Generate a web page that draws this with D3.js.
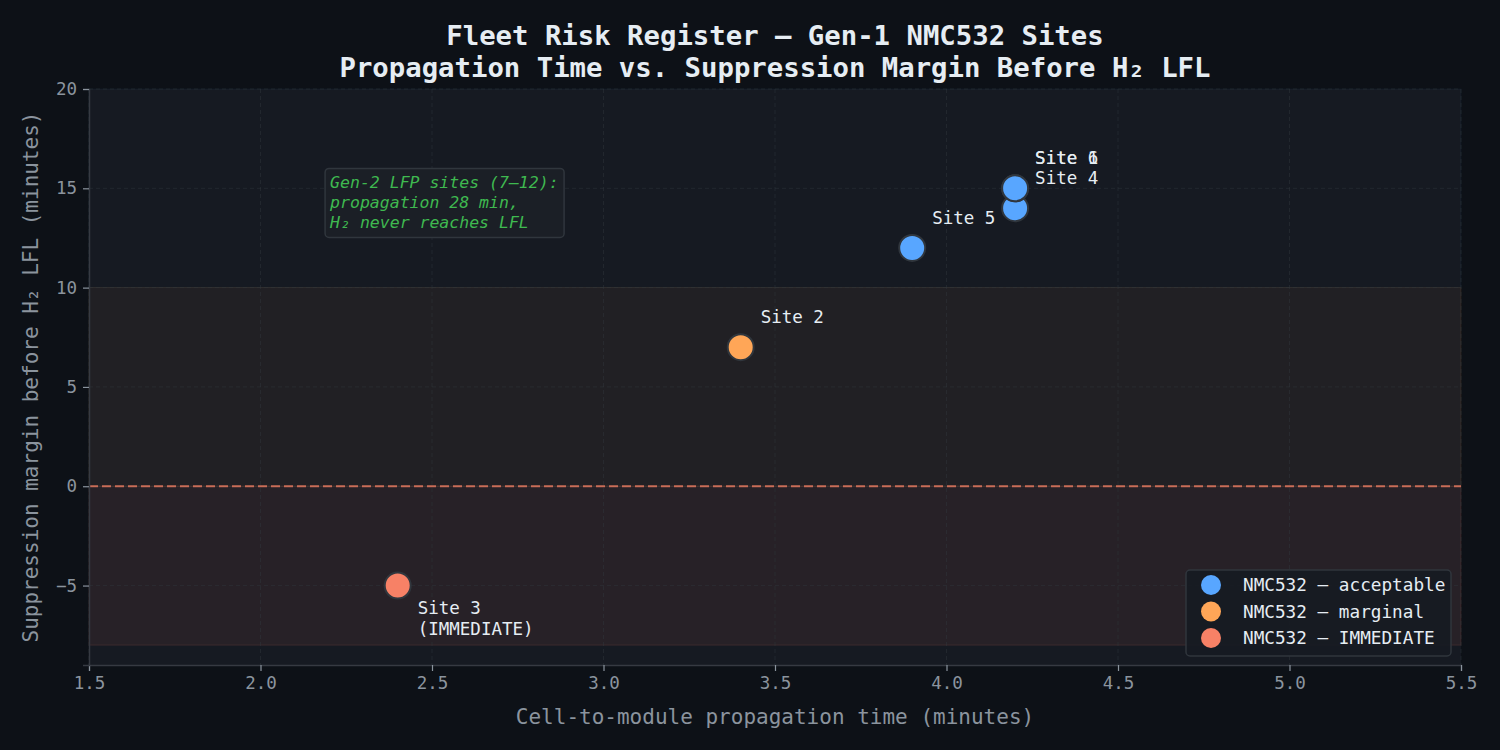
<!DOCTYPE html>
<html><head><meta charset="utf-8">
<script src="https://cdn.jsdelivr.net/npm/d3@7"></script>
<style>
html,body{margin:0;padding:0;background:#0d1117;}
svg{display:block;}
</style></head>
<body>
<svg id="chart" width="1500" height="750"></svg>
<script>
// ---- data ----
const sites = ["Site 1", "Site 6", "Site 4", "Site 5", "Site 2", "Site 3"];
const propagation = [4.2, 4.2, 4.2, 3.9, 3.4, 2.4];
const margin = [15, 15, 14, 12, 7, -5];
const status = ["acceptable", "acceptable", "acceptable", "acceptable", "marginal", "IMMEDIATE"];
const categories = ["acceptable", "marginal", "IMMEDIATE"];
const legendLabels = ["NMC532 — acceptable", "NMC532 — marginal", "NMC532 — IMMEDIATE"];
const xTicks = [1.5, 2.0, 2.5, 3.0, 3.5, 4.0, 4.5, 5.0, 5.5];
const yTicks = [-5, 0, 5, 10, 15, 20];
const bands = [[10, 20, "acceptable"], [0, 10, "marginal"], [-8, 0, "IMMEDIATE"]];
const titleLines = ["Fleet Risk Register — Gen-1 NMC532 Sites", "Propagation Time vs. Suppression Margin Before H₂ LFL"];
const noteLines = ["Gen-2 LFP sites (7–12):", "propagation 28 min,", "H₂ never reaches LFL"];
const noteAnchor = [2.2, 15.6];

// ---- styles ----
const colors = {acceptable: "#58a6ff", marginal: "#ffa657", IMMEDIATE: "#f78166"};
const bandAlpha = {acceptable: 0.0, marginal: 0.05, IMMEDIATE: 0.08};
const font = "'DejaVu Sans Mono', monospace";

const svg = d3.select("#chart");
const W = 1500, H = 750;
const m = {l: 89, r: 39, t: 89, b: 85};
const x = d3.scaleLinear().domain([1.5, 5.5]).range([m.l, W - m.r]);
const y = d3.scaleLinear().domain([-9, 20]).range([H - m.b, m.t]);

svg.append("rect").attr("width", W).attr("height", H).attr("fill", "#0d1117");
svg.append("rect").attr("x", x(1.5)).attr("y", y(20)).attr("width", x(5.5) - x(1.5)).attr("height", y(-9) - y(20)).attr("fill", "#161a22");

// bands
svg.append("g").selectAll("rect").data(bands).join("rect")
  .attr("x", x(1.5)).attr("width", x(5.5) - x(1.5))
  .attr("y", d => y(d[1])).attr("height", d => y(d[0]) - y(d[1]))
  .attr("fill", d => colors[d[2]]).attr("fill-opacity", d => bandAlpha[d[2]])
  .attr("stroke", d => colors[d[2]]).attr("stroke-opacity", d => bandAlpha[d[2]] + 0.05).attr("stroke-width", 1);

// grid
const grid = svg.append("g");
grid.selectAll("line.gx").data(xTicks).join("line")
  .attr("x1", d => x(d)).attr("x2", d => x(d)).attr("y1", y(20)).attr("y2", y(-9))
  .attr("stroke", "#30363d").attr("stroke-opacity", 0.6).attr("stroke-dasharray", "4,3").attr("stroke-width", 0.8);
grid.selectAll("line.gy").data(yTicks).join("line")
  .attr("x1", x(1.5)).attr("x2", x(5.5)).attr("y1", d => y(d)).attr("y2", d => y(d))
  .attr("stroke", "#30363d").attr("stroke-opacity", 0.6).attr("stroke-dasharray", "4,3").attr("stroke-width", 0.8);

// zero line
svg.append("line").attr("x1", x(1.5)).attr("x2", x(5.5)).attr("y1", y(0)).attr("y2", y(0))
  .attr("stroke", "#f78166").attr("stroke-opacity", 0.75).attr("stroke-width", 2).attr("stroke-dasharray", "9,4");

// axes
const xAxis = svg.append("g").attr("transform", `translate(0,${y(-9)})`)
  .call(d3.axisBottom(x).tickValues(xTicks).tickFormat(d3.format(".1f")).tickSize(6).tickPadding(6));
const yAxis = svg.append("g").attr("transform", `translate(${x(1.5)},0)`)
  .call(d3.axisLeft(y).tickValues(yTicks).tickFormat(d => d < 0 ? "−" + Math.abs(d) : d).tickSize(6).tickPadding(6));
[xAxis, yAxis].forEach(a => {
  a.select(".domain").attr("stroke", "#363a42").attr("stroke-width", 1.5);
  a.selectAll(".tick line").attr("stroke", "#8b949e").attr("stroke-width", 1.2);
  a.selectAll(".tick text").attr("fill", "#8b949e").style("font-family", font).style("font-size", "17.5px");
});

// axis labels
svg.append("text").attr("x", (x(1.5) + x(5.5)) / 2).attr("y", 724).attr("text-anchor", "middle")
  .attr("fill", "#8b949e").style("font-family", font).style("font-size", "21px")
  .text("Cell-to-module propagation time (minutes)");
svg.append("text").attr("transform", `translate(38,${(y(20) + y(-9)) / 2}) rotate(-90)`).attr("text-anchor", "middle")
  .attr("fill", "#8b949e").style("font-family", font).style("font-size", "21px")
  .text("Suppression margin before H₂ LFL (minutes)");

// title
svg.append("g").selectAll("text").data(titleLines).join("text")
  .attr("x", (x(1.5) + x(5.5)) / 2).attr("y", (d, i) => 45 + i * 32).attr("text-anchor", "middle")
  .attr("fill", "#e6edf3").style("font-family", font).style("font-size", "27.3px").style("font-weight", "bold")
  .text(d => d);

// annotation box
const nb = svg.append("g");
nb.append("rect").attr("x", x(noteAnchor[0]) - 4).attr("y", y(noteAnchor[1]) - 8).attr("width", 239).attr("height", 69)
  .attr("rx", 4).attr("fill", "#1b1f26").attr("stroke", "#30363d").attr("stroke-width", 1.5);
nb.selectAll("text").data(noteLines).join("text")
  .attr("x", x(noteAnchor[0]) + 1).attr("y", (d, i) => y(noteAnchor[1]) + 12 + i * 20)
  .attr("fill", "#3fb950").style("font-family", font).style("font-size", "16.5px").style("font-style", "italic")
  .text(d => d);

// points (draw lower-margin first so the 15 point sits on top)
const pts = sites.map((s, i) => ({s, px: propagation[i], m: margin[i], st: status[i]}));
const order = pts.slice().sort((a, b) => a.m - b.m);
svg.append("g").selectAll("circle").data(order).join("circle")
  .attr("cx", d => x(d.px)).attr("cy", d => y(d.m)).attr("r", 13)
  .attr("fill", d => colors[d.st]).attr("stroke", "#30363d").attr("stroke-width", 2);

// labels
const lab = svg.append("g");
pts.forEach(d => {
  const t = lab.append("text").attr("fill", "#e6edf3").style("font-family", font).style("font-size", "17.5px");
  if (d.st === "IMMEDIATE") {
    t.append("tspan").attr("x", x(d.px) + 20).attr("y", y(d.m) + 28).text(d.s);
    t.append("tspan").attr("x", x(d.px) + 20).attr("y", y(d.m) + 49).text("(IMMEDIATE)");
  } else {
    t.attr("x", x(d.px) + 20).attr("y", y(d.m) - 24).text(d.s);
  }
});

// legend
const lg = svg.append("g");
lg.append("rect").attr("x", 1186).attr("y", 570).attr("width", 265).attr("height", 86).attr("rx", 4)
  .attr("fill", "#161b22").attr("fill-opacity", 0.9).attr("stroke", "#30363d").attr("stroke-width", 1.5);
categories.forEach((c, i) => {
  lg.append("circle").attr("cx", 1211).attr("cy", 585 + i * 26.5).attr("r", 10).attr("fill", colors[c]);
  lg.append("text").attr("x", 1243).attr("y", 585 + i * 26.5 + 6).attr("fill", "#e6edf3")
    .style("font-family", font).style("font-size", "17.7px").text(legendLabels[i]);
});
</script>
</body></html>
